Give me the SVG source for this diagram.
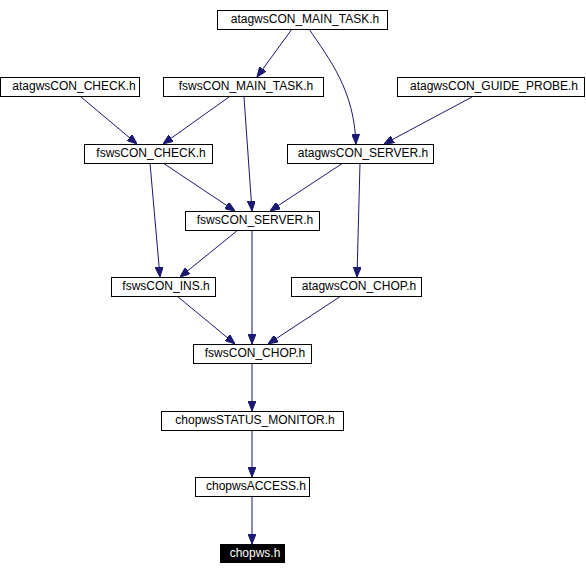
<svg xmlns="http://www.w3.org/2000/svg" width="586" height="575" viewBox="0 0 586 575">
<style>
.n rect{fill:#fff;stroke:#000;stroke-width:1}
.n text{font-family:"Liberation Sans",Arial,sans-serif;font-size:12px;fill:#000;text-anchor:middle}
#chopws rect{fill:#000}
#chopws text{fill:#fff}
.e path{fill:none;stroke:#191970;stroke-width:1;marker-end:url(#ah)}
</style>
<defs>
<marker id="ah" markerUnits="userSpaceOnUse" markerWidth="10" markerHeight="8" refX="10" refY="4" orient="auto">
<path d="M0,0 L10,4 L0,8 z" fill="#191970" stroke="#191970" stroke-width="1"/>
</marker>
</defs>
<rect width="586" height="575" fill="#fff"/>
<g class="e">
<path d="M292,29 L257,77"/>
<path d="M309,29 C330,60 354,90 356,144"/>
<path d="M81,97 L137,144"/>
<path d="M229,97 L163,144"/>
<path d="M244,97 L252,211"/>
<path d="M472,97 L384,144"/>
<path d="M163,163 L235,211"/>
<path d="M150,163 L160,277"/>
<path d="M343,163 L270,211"/>
<path d="M360,163 L357,277"/>
<path d="M238,230 L180,277"/>
<path d="M252,230 L252,344"/>
<path d="M177,296 L235,344"/>
<path d="M341,296 L268,344"/>
<path d="M252,363 L252,411"/>
<path d="M252,430 L252,477"/>
<path d="M252,496 L252,544"/>
</g>
<g id="atagwsCON_MAIN_TASK" class="n"><rect x="217.5" y="10.5" width="170" height="19"/><text x="305" y="23">atagwsCON_MAIN_TASK.h</text></g>
<g id="atagwsCON_CHECK" class="n"><rect x="0.5" y="77.5" width="139" height="19"/><text x="74" y="90">atagwsCON_CHECK.h</text></g>
<g id="fswsCON_MAIN_TASK" class="n"><rect x="163.5" y="77.5" width="160" height="19"/><text x="246" y="90">fswsCON_MAIN_TASK.h</text></g>
<g id="atagwsCON_GUIDE_PROBE" class="n"><rect x="397.5" y="77.5" width="187" height="19"/><text x="494" y="90">atagwsCON_GUIDE_PROBE.h</text></g>
<g id="fswsCON_CHECK" class="n"><rect x="84.5" y="144.5" width="128" height="19"/><text x="151" y="157">fswsCON_CHECK.h</text></g>
<g id="atagwsCON_SERVER" class="n"><rect x="287.5" y="144.5" width="146" height="19"/><text x="363" y="157">atagwsCON_SERVER.h</text></g>
<g id="fswsCON_SERVER" class="n"><rect x="185.5" y="211.5" width="134" height="19"/><text x="255" y="224">fswsCON_SERVER.h</text></g>
<g id="fswsCON_INS" class="n"><rect x="111.5" y="277.5" width="104" height="19"/><text x="166" y="290">fswsCON_INS.h</text></g>
<g id="atagwsCON_CHOP" class="n"><rect x="291.5" y="277.5" width="130" height="19"/><text x="359" y="290">atagwsCON_CHOP.h</text></g>
<g id="fswsCON_CHOP" class="n"><rect x="193.5" y="344.5" width="118" height="19"/><text x="255" y="357">fswsCON_CHOP.h</text></g>
<g id="chopwsSTATUS_MONITOR" class="n"><rect x="161.5" y="411.5" width="182" height="19"/><text x="255" y="424">chopwsSTATUS_MONITOR.h</text></g>
<g id="chopwsACCESS" class="n"><rect x="195.5" y="477.5" width="114" height="19"/><text x="256" y="490">chopwsACCESS.h</text></g>
<g id="chopws" class="n"><rect x="220.5" y="544.5" width="64" height="18"/><text x="255" y="557">chopws.h</text></g>
</svg>
